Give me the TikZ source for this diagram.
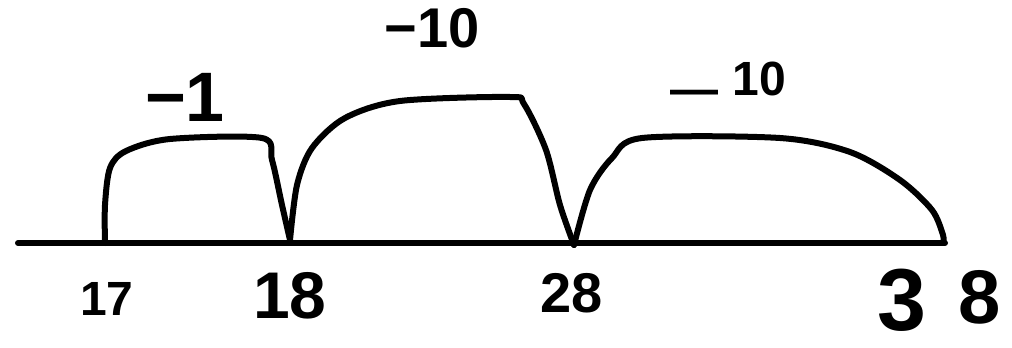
\documentclass[tikz,border=0pt]{standalone}
\usepackage{fontspec}
\setmainfont{Liberation Sans}
\begin{document}
\begin{tikzpicture}[x=1pt,y=-1pt,
  stroke/.style={line width=6pt,line cap=round,line join=round},
  lab/.style={inner sep=0pt,anchor=base,font=\bfseries}]
\useasboundingbox (0,0) rectangle (1012,348);
\draw[stroke] (18,243) -- (945,243);
\draw[stroke] plot[smooth,tension=0.5] coordinates {(105,243) (105,205) (110,168) (126,151) (170,139) (262,138) (272,160) (282,205) (290,240)};
\draw[stroke] plot[smooth,tension=0.5] coordinates {(290,240) (297,185) (312,148) (345,118) (400,101) (510,97) (524,104) (546,150) (560,205) (574,245)};
\draw[stroke] plot[smooth,tension=0.5] coordinates {(574,245) (590,190) (612,158) (642,138) (780,138) (850,152) (900,180) (932,210) (943,235) (943,243)};
\node[lab,font=\bfseries\fontsize{70}{70}\selectfont] (m1) at (185,121) {−1};
\node[lab,font=\bfseries\fontsize{56}{56}\selectfont] (m2) at (432,47) {−10};
\node[lab,font=\bfseries\fontsize{48}{48}\selectfont] (m3) at (728,95) {\raisebox{-0.22em}{—}\hspace{0.3em}10};
\node[lab,font=\bfseries\fontsize{48}{48}\selectfont] (t17) at (107,315) {17};
\node[lab,font=\bfseries\fontsize{66}{66}\selectfont] (t18) at (290,318) {18};
\node[lab,font=\bfseries\fontsize{56}{56}\selectfont] (t28) at (572,312) {28};
\node[lab,font=\bfseries\fontsize{88}{88}\selectfont] (t3) at (902,330) {3};
\node[lab,font=\bfseries\fontsize{76}{76}\selectfont] (t8) at (980,323) {8};
\end{tikzpicture}
\end{document}
